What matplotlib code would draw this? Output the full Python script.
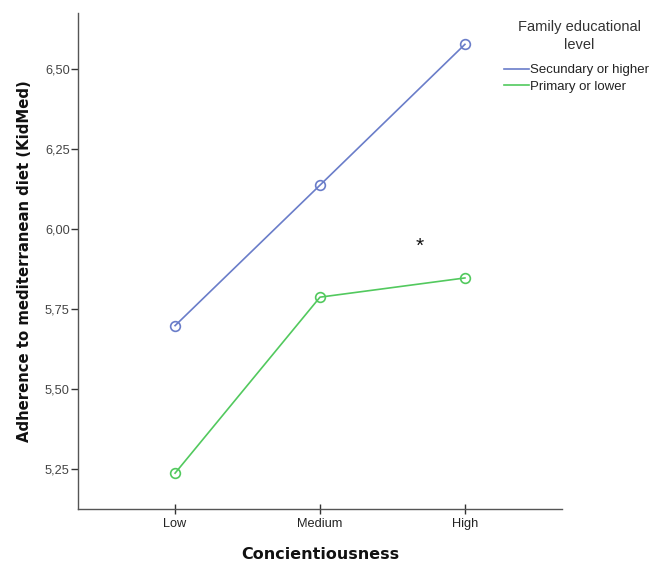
import matplotlib
matplotlib.use("Agg")
import matplotlib.pyplot as plt
from matplotlib.ticker import FuncFormatter

categories = ["Low", "Medium", "High"]
secundary = [5.698, 6.137, 6.577]
primary = [5.237, 5.787, 5.847]
y_ticks = [5.25, 5.50, 5.75, 6.00, 6.25, 6.50]
series_labels = ["Secundary or higher", "Primary or lower"]

plt.rcParams["font.family"] = ["Liberation Sans", "DejaVu Sans"]

fig = plt.figure(figsize=(6.51, 5.62), dpi=100)
ax = fig.add_axes([0.1198, 0.0943, 0.7435, 0.8826])

x = list(range(len(categories)))
blue = "#6a7dc9"
green = "#52c95e"
ax.plot(x, secundary, color=blue, lw=1.2, marker="o", mfc="none", mec=blue,
        ms=7, mew=1.2, label=series_labels[0])
ax.plot(x, primary, color=green, lw=1.2, marker="o", mfc="none", mec=green,
        ms=7, mew=1.2, label=series_labels[1])

ax.set_xlim(-0.67, 2.67)
ax.set_ylim(5.125, 6.675)
ax.set_xticks(x)
ax.set_xticklabels(categories)
ax.set_yticks(y_ticks)
ax.yaxis.set_major_formatter(FuncFormatter(lambda v, p: f"{v:.2f}".replace(".", ",")))

for s in ["top", "right"]:
    ax.spines[s].set_visible(False)
for s in ["left", "bottom"]:
    ax.spines[s].set_color("#555555")
    ax.spines[s].set_linewidth(1.0)
ax.tick_params(axis="y", length=5, width=1, color="#333333", labelsize=9.2,
               labelcolor="#444444", pad=1)
ax.tick_params(axis="x", length=7, width=1, color="#333333", labelsize=9.2,
               labelcolor="#222222", pad=3, direction="inout")

ax.set_xlabel("Concientiousness", fontsize=11.5, fontweight="bold", labelpad=12,
              family="DejaVu Sans", color="#111111")
ax.set_ylabel("Adherence to mediterranean diet (KidMed)", fontsize=10.7,
              fontweight="bold", labelpad=9, family="DejaVu Sans", color="#111111")

ax.text(1.69, 5.945, "*", fontsize=15, ha="center", va="center", color="#111111")

fig.text(579 / 651, 1 - 36 / 562, "Family educational\nlevel", ha="center",
         va="center", multialignment="center", fontsize=10.5, color="#333333",
         linespacing=1.3)

handles, labels = ax.get_legend_handles_labels()
leg = fig.legend(handles, labels, loc="upper left",
                 bbox_to_anchor=(504 / 651, 1 - 64 / 562),
                 frameon=False, fontsize=9.5,
                 handlelength=1.9, handletextpad=0.1,
                 labelspacing=0.35, borderaxespad=0, borderpad=0)
for h in leg.legend_handles:
    h.set_marker("")
for t in leg.get_texts():
    t.set_color("#222222")

fig.savefig("out.png", dpi=100)
